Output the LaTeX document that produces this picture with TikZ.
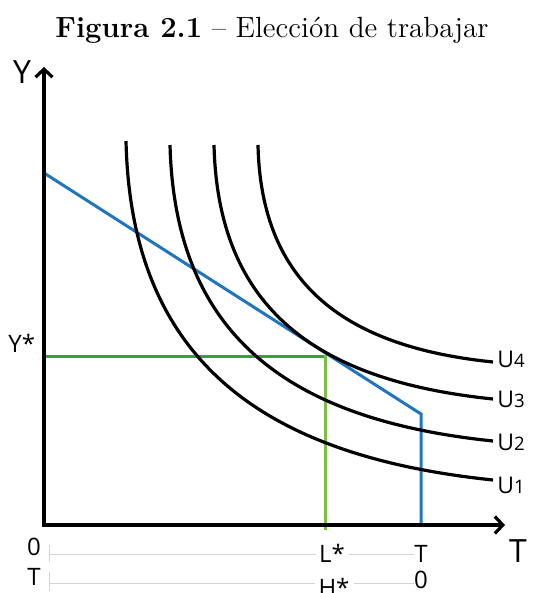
\documentclass[tikz,border=0pt]{standalone}
\usepackage{fontspec}
\newfontfamily\labfont{Open Sans}
\usetikzlibrary{arrows.meta}
\definecolor{budget}{RGB}{31,117,192}
\definecolor{greenh}{RGB}{58,160,58}
\definecolor{greenv}{RGB}{125,190,70}
\definecolor{rulergray}{RGB}{212,212,212}
\begin{document}
\begin{tikzpicture}[x=0.5pt,y=-0.5pt,
  axisline/.style={line width=2pt, line join=miter},
  icurve/.style={line width=1.6pt, black},
  budgetline/.style={line width=1.5pt, budget, line join=miter},
  lab/.style={font=\labfont\fontsize{12}{14}\selectfont, inner sep=0pt},
  biglab/.style={font=\labfont\fontsize{16}{19}\selectfont, inner sep=0pt},
  ulab/.style={font=\labfont\fontsize{11.5}{13}\selectfont, inner sep=0pt, anchor=base west},
  ruler/.style={draw=rulergray, line width=0.5pt}
]
\useasboundingbox (0,0) rectangle (543,593);
\newcommand{\dig}[1]{{\fontsize{9.3}{10}\selectfont #1}}

% title
\node[font=\fontsize{14.6}{17}\selectfont, anchor=base, inner sep=0pt] (title) at (272,38)
  {\textbf{Figura 2.1} -- Elección de trabajar};

% key points
\coordinate (O) at (44,525);
\coordinate (ytip) at (44,67);
\coordinate (xtip) at (505,525);
\coordinate (B0) at (44,173);
\coordinate (Bk) at (421,414);
\coordinate (BT) at (421,525);
\coordinate (Ys) at (44,356);
\coordinate (E) at (325,356);
\coordinate (Ls) at (325,530);

% green lines
\draw[greenh, line width=1.5pt] (Ys) -- (E);
\draw[greenv, line width=1.5pt] ([yshift=0.75pt]E) -- (Ls);

% budget line
\draw[budgetline] (B0) -- (Bk) -- (BT);

% indifference curves
\coordinate (u1s) at (126,141); \coordinate (u1e) at (493,480);
\coordinate (u2s) at (170,145); \coordinate (u2e) at (493,441);
\coordinate (u3s) at (214,145); \coordinate (u3e) at (493,399);
\coordinate (u4s) at (258,145); \coordinate (u4e) at (493,362);
\draw[icurve] (u1s) .. controls (131,361) and (263,456) .. (u1e);
\draw[icurve] (u2s) .. controls (175,337) and (290,420) .. (u2e);
\draw[icurve] (u3s) .. controls (218,310) and (318,381) .. (u3e);
\draw[icurve] (u4s) .. controls (261,285) and (346,347) .. (u4e);

% axes
\draw[axisline, {Straight Barb[length=4pt,width=8.5pt,line width=1.6pt]}-{Straight Barb[length=4pt,width=8.5pt,line width=1.6pt]}] (ytip) -- (O) -- (xtip);

% axis labels
\node[biglab] (ylab) at (22,72) {Y};
\node[biglab] (tlab) at (518,551) {T};
\node[lab, anchor=base west] (ystar) at (8,352) {Y*};

% curve labels
\node[ulab] (u4) at (497,367) {U\dig{4}};
\node[ulab] (u3) at (497,407) {U\dig{3}};
\node[ulab] (u2) at (497,450) {U\dig{2}};
\node[ulab] (u1) at (497,493) {U\dig{1}};

% bottom scales
\node[lab] (z1) at (34,547) {0};
\node[lab, anchor=base] (lstar) at (332,562) {L*};
\node[lab] (t1) at (421,554) {T};
\node[lab] (t2) at (34,577) {T};
\node[lab, anchor=north] (hstar) at (334,578) {H*};
\node[lab] (z2) at (421,580) {0};

\coordinate (r1a) at (49,554);
\coordinate (r2a) at (49,583);
\draw[ruler] (49,545) -- (49,562);
\draw[ruler] (49,572) -- (49,591);
\draw[ruler] (r1a) -- ([xshift=-1.5pt]lstar.west |- r1a);
\draw[ruler] ([xshift=2pt]lstar.east |- r1a) -- (t1.west |- r1a);
\draw[ruler] (r2a) -- ([xshift=-1.5pt]hstar.west |- r2a);
\draw[ruler] ([xshift=2pt]hstar.east |- r2a) -- (z2.west |- r2a);
\end{tikzpicture}
\end{document}
